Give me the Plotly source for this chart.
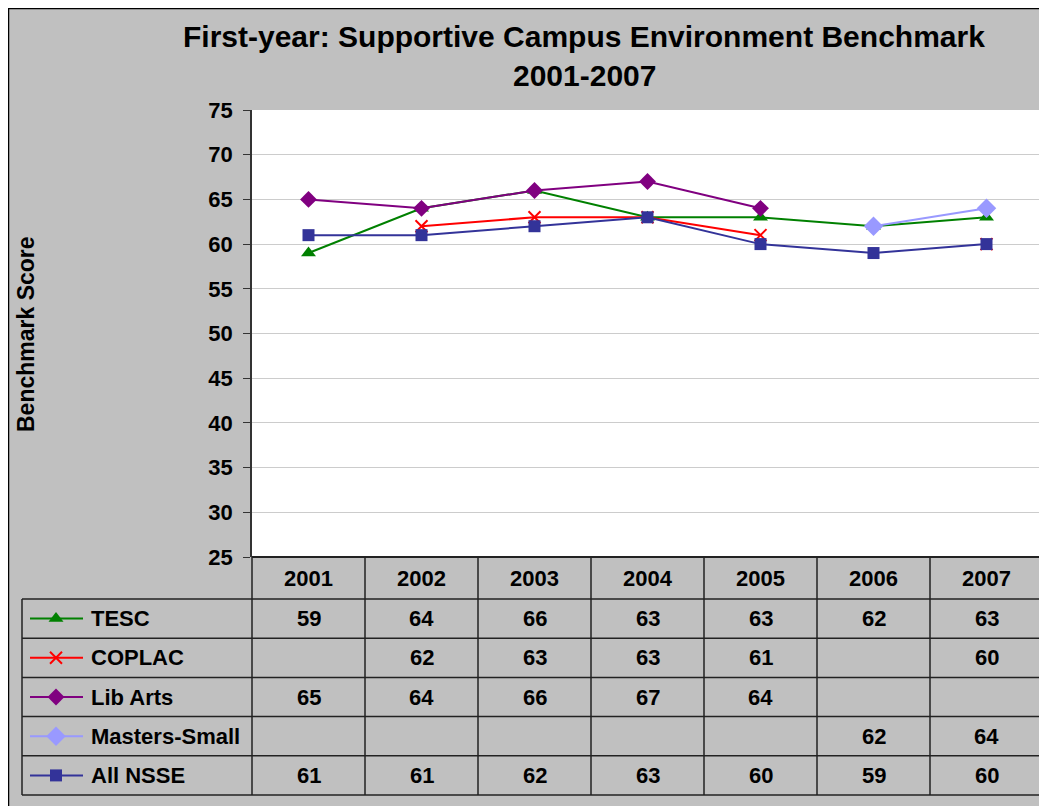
import plotly.graph_objects as go

# ---------------- data ----------------
years = ["2001", "2002", "2003", "2004", "2005", "2006", "2007"]
series_names = ["TESC", "COPLAC", "Lib Arts", "Masters-Small", "All NSSE"]
tesc = [59, 64, 66, 63, 63, 62, 63]
coplac = [None, 62, 63, 63, 61, None, 60]
lib_arts = [65, 64, 66, 67, 64, None, None]
masters_small = [None, None, None, None, None, 62, 64]
all_nsse = [61, 61, 62, 63, 60, 59, 60]
y_ticks = [25, 30, 35, 40, 45, 50, 55, 60, 65, 70, 75]

title_line1 = "First-year: Supportive Campus Environment Benchmark"
title_line2 = "2001-2007"
y_title = "Benchmark Score"

# ---------------- geometry / styles ----------------
OFF = 8                     # page body margin: figure origin in page pixels
W, H = 1047, 806
PL, PR, PT, PB = 252, 1043, 110, 557  # plot area in page pixels
FONT = "Liberation Sans, Arial, sans-serif"


def px(x):
    return (x - OFF) / W


def py(y):
    return 1 - (y - OFF) / H


styles = [
    dict(color="#008000", symbol="triangle-up", size=13),
    dict(color="#ff0000", symbol="x-thin", size=12),
    dict(color="#800080", symbol="diamond", size=13),
    dict(color="#9999ff", symbol="diamond", size=15),
    dict(color="#333399", symbol="square", size=12),
]
values = [tesc, coplac, lib_arts, masters_small, all_nsse]


def make_marker(st):
    m = dict(color=st["color"], symbol=st["symbol"], size=st["size"])
    if st["symbol"] == "x-thin":
        m["line"] = dict(color=st["color"], width=2)
    return m


fig = go.Figure()

for name, vals, st in zip(series_names, values, styles):
    fig.add_trace(go.Scatter(
        x=years, y=vals, name=name, mode="lines+markers",
        line=dict(color=st["color"], width=2), marker=make_marker(st),
        connectgaps=False, showlegend=False, xaxis="x", yaxis="y", cliponaxis=False))

# table geometry (page pixels)
ncol = len(years)
colw = (PR - PL) / ncol
col_edges = [PL + i * colw for i in range(ncol + 1)]
col_centers = [PL + (i + 0.5) * colw for i in range(ncol)]
header_bottom = 599
row_h = (795 - header_bottom) / len(series_names)
row_edges = [header_bottom + k * row_h for k in range(len(series_names) + 1)]
row_centers = [header_bottom + (k + 0.5) * row_h for k in range(len(series_names))]
TL = 22  # table left

# legend keys in the table, drawn on pixel overlay axes
for k, (name, st) in enumerate(zip(series_names, styles)):
    yc = row_centers[k]
    fig.add_trace(go.Scatter(
        x=[30, 83], y=[yc, yc], mode="lines", line=dict(color=st["color"], width=2),
        showlegend=False, hoverinfo="skip", xaxis="x2", yaxis="y2"))
    fig.add_trace(go.Scatter(
        x=[56], y=[yc], mode="markers", marker=make_marker(st),
        showlegend=False, hoverinfo="skip", xaxis="x2", yaxis="y2"))

shapes = []
# gray chart area with black border
shapes.append(dict(type="rect", xref="paper", yref="paper", x0=px(OFF + 0.5), y0=py(OFF + 0.5),
                   x1=px(OFF + W + 5), y1=py(OFF + H + 5),
                   fillcolor="#c0c0c0", line=dict(color="#000000", width=1.5), layer="below"))
# white plot area
shapes.append(dict(type="rect", xref="paper", yref="paper", x0=px(PL), y0=py(PB), x1=px(PR), y1=py(PT),
                   fillcolor="#ffffff", line=dict(width=0), layer="below"))
# right border of plot area
shapes.append(dict(type="line", xref="x2", yref="y2", x0=PR, y0=PT, x1=PR, y1=PB,
                   line=dict(color="#a0a0a0", width=1.5)))
# table lines
tc = "#222222"
shapes.append(dict(type="line", xref="x2", yref="y2", x0=PL, y0=PB, x1=PR, y1=PB,
                   line=dict(color=tc, width=2)))
for xe in col_edges:
    shapes.append(dict(type="line", xref="x2", yref="y2", x0=xe, y0=PB, x1=xe, y1=row_edges[-1],
                       line=dict(color=tc, width=1.5)))
shapes.append(dict(type="line", xref="x2", yref="y2", x0=TL, y0=row_edges[0], x1=TL, y1=row_edges[-1],
                   line=dict(color=tc, width=1.5)))
for ye in row_edges:
    shapes.append(dict(type="line", xref="x2", yref="y2", x0=TL, y0=ye, x1=PR, y1=ye,
                       line=dict(color=tc, width=1.5)))

annotations = []
bold = dict(family=FONT, size=22, color="#000000", weight="bold")
for xc, yr in zip(col_centers, years):
    annotations.append(dict(x=xc, y=(PB + header_bottom) / 2, xref="x2", yref="y2",
                            text=yr, showarrow=False, font=bold, xanchor="center", yanchor="middle"))
for k, (name, vals) in enumerate(zip(series_names, values)):
    annotations.append(dict(x=89, y=row_centers[k], xref="x2", yref="y2", text=name,
                            showarrow=False, font=bold, xanchor="left", yanchor="middle"))
    for xc, v in zip(col_centers, vals):
        if v is not None:
            annotations.append(dict(x=xc, y=row_centers[k], xref="x2", yref="y2", text=str(v),
                                    showarrow=False, font=bold, xanchor="center", yanchor="middle"))
# titles
tfont = dict(family=FONT, size=30, color="#000000", weight="bold")
annotations.append(dict(x=584, y=36, xref="x2", yref="y2", text=title_line1, showarrow=False,
                        font=tfont, xanchor="center", yanchor="middle"))
annotations.append(dict(x=584, y=75, xref="x2", yref="y2", text=title_line2, showarrow=False,
                        font=tfont, xanchor="center", yanchor="middle"))
annotations.append(dict(x=26, y=334, xref="x2", yref="y2", text=y_title, showarrow=False,
                        textangle=-90,
                        font=dict(family=FONT, size=23, color="#000000", weight="bold"),
                        xanchor="center", yanchor="middle"))

fig.update_layout(
    width=W, height=H, autosize=False,
    margin=dict(l=0, r=0, t=0, b=0, pad=0),
    paper_bgcolor="#ffffff", plot_bgcolor="rgba(0,0,0,0)",
    showlegend=False,
    xaxis=dict(domain=[px(PL), px(PR)], type="category", range=[-0.5, ncol - 0.5],
               showticklabels=False, showgrid=False, zeroline=False, showline=False,
               ticks="", fixedrange=True, anchor="y"),
    yaxis=dict(domain=[py(PB), py(PT)], range=[25, 75], tickvals=y_ticks,
               showgrid=True, gridcolor="#cccccc", gridwidth=1, zeroline=False,
               showline=True, linecolor="#333333", linewidth=1.5,
               ticks="outside", ticklen=7, tickcolor="#333333", ticklabelstandoff=6,
               tickfont=dict(family=FONT, size=22, color="#000000", weight="bold"),
               automargin=False, anchor="x", fixedrange=True),
    xaxis2=dict(domain=[0, 1], range=[OFF, OFF + W], visible=False, fixedrange=True, anchor="y2"),
    yaxis2=dict(domain=[0, 1], range=[OFF + H, OFF], visible=False, fixedrange=True, anchor="x2"),
    shapes=shapes,
    annotations=annotations,
)

fig.write_html("out.html")
